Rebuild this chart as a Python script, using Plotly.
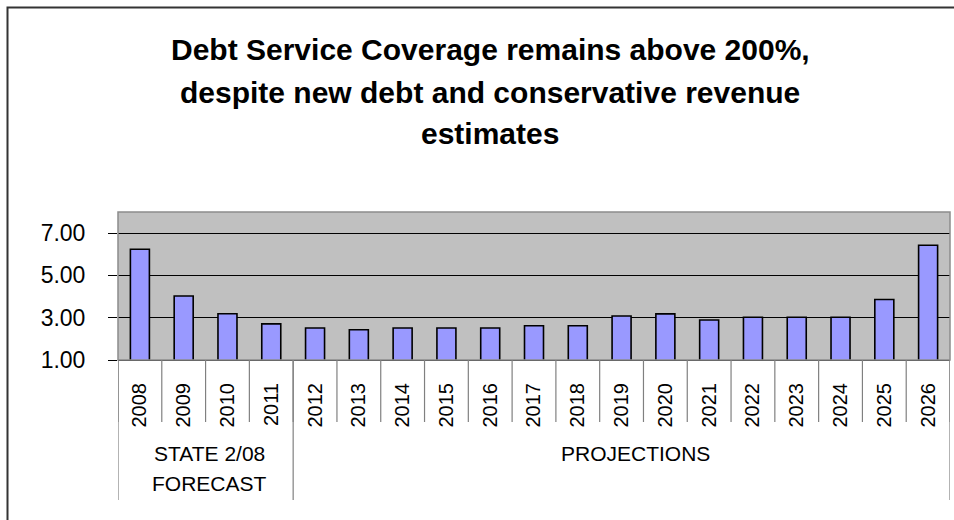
import plotly.graph_objects as go

years = [str(y) for y in range(2008, 2027)]
coverage = [6.24, 4.03, 3.19, 2.71, 2.51, 2.43, 2.51, 2.51, 2.51, 2.62, 2.62,
            3.08, 3.18, 2.89, 3.02, 3.02, 3.02, 3.86, 6.43]
groups = [["STATE 2/08", "FORECAST"], ["PROJECTIONS"]]
group_sizes = [4, 15]
y_ticks = [1, 3, 5, 7]
title_lines = ["Debt Service Coverage remains above 200%,",
               "despite new debt and conservative revenue",
               "estimates"]

W, H = 954, 520
L, R, T, B = 118, 4, 212, 160
PW, PH = W - L - R, H - T - B
FONT = "Arial, Liberation Sans, sans-serif"


def px_x(px):
    return (px - L) / PW


def px_y(py):
    return (H - B - py) / PH


fig = go.Figure()
fig.add_trace(go.Bar(
    x=years, y=coverage,
    marker=dict(color="#9999FF", line=dict(color="black", width=1.6)),
    showlegend=False,
))

shapes = []
# plot area border (gray)
shapes.append(dict(type="rect", xref="paper", yref="paper", x0=0, x1=1, y0=0, y1=1,
                   line=dict(color="#8c8c8c", width=1.5), layer="above"))
# outer chart frame
shapes.append(dict(type="rect", xref="paper", yref="paper",
                   x0=px_x(7.5), x1=px_x(W + 60), y0=px_y(H + 60), y1=px_y(7.5),
                   line=dict(color="#333333", width=2), layer="above"))
# category separators
n = len(years)
for i in range(n + 1):
    shapes.append(dict(type="line", xref="x", yref="paper", x0=i - 0.5, x1=i - 0.5,
                       y0=0, y1=px_y(422), line=dict(color="#808080", width=1.2)))
# group separators
pos = -0.5
bounds = [pos]
for s in group_sizes:
    pos += s
    bounds.append(pos)
for b in bounds:
    shapes.append(dict(type="line", xref="x", yref="paper", x0=b, x1=b,
                       y0=0, y1=px_y(500), line=dict(color="#808080", width=1.2)))

annotations = []
start = 0
shifts = [4, 14]
for g, s, sh in zip(groups, group_sizes, shifts):
    center = start + (s - 1) / 2
    for k, line in enumerate(g):
        annotations.append(dict(text=line, xref="x", yref="paper", x=center,
                                y=px_y(453 + 30 * k),
                                yanchor="middle", xanchor="center", showarrow=False,
                                xshift=sh,
                                font=dict(family=FONT, size=21, color="black")))
    start += s

title_y = [49, 92, 133]
for t, ty in zip(title_lines, title_y):
    annotations.append(dict(text="<b>" + t + "</b>", xref="paper", yref="paper",
                            x=px_x(490), y=px_y(ty), xanchor="center", yanchor="middle",
                            showarrow=False,
                            font=dict(family=FONT, size=30, color="black")))

fig.update_layout(
    width=W, height=H,
    margin=dict(l=L, r=R, t=T, b=B, pad=0),
    paper_bgcolor="white", plot_bgcolor="#C0C0C0",
    bargap=0.566,
    shapes=shapes, annotations=annotations,
    font=dict(family=FONT, color="black"),
    xaxis=dict(type="category", range=[-0.5, n - 0.5], tickangle=-90,
               tickfont=dict(size=20, family=FONT, color="black"),
               showline=True, linecolor="black", linewidth=1.2, ticks="",
               showgrid=False, ticklabelstandoff=14, fixedrange=True),
    yaxis=dict(range=[1, 8], tickvals=y_ticks, tickformat=".2f",
               tickfont=dict(size=23, family=FONT, color="black"),
               ticks="outside", ticklen=9, tickcolor="black", tickwidth=1.2,
               showgrid=True, gridcolor="black", gridwidth=1.2,
               zeroline=False, showline=False, ticklabelstandoff=18,
               fixedrange=True),
)

fig.write_html("out.html")
